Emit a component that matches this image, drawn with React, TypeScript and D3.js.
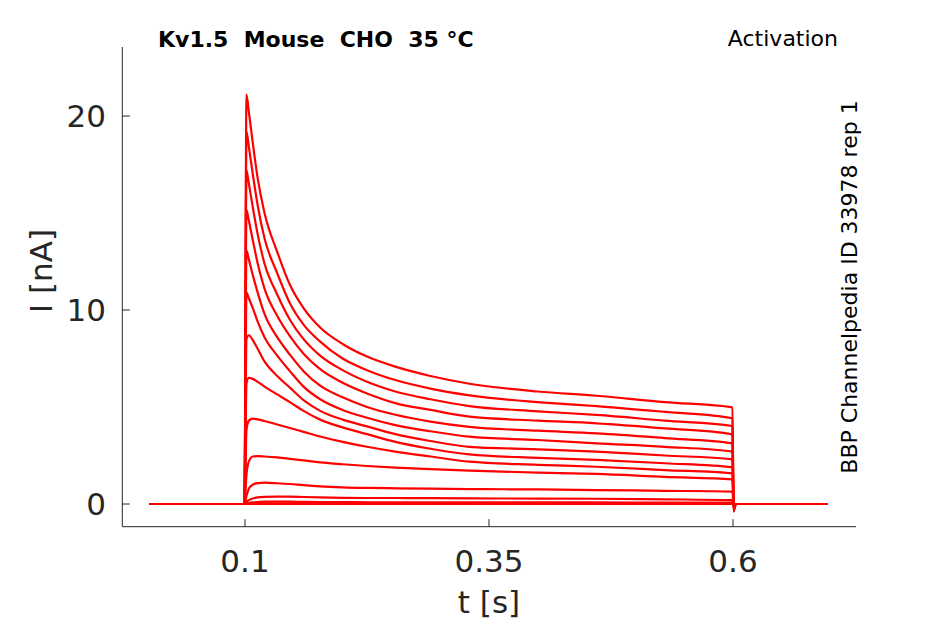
import React from 'react';
import * as d3 from 'd3';

const W = 945;
const H = 624;

// time points (s) of the depolarising step
const stepTimes = [0.1015, 0.104, 0.108, 0.113, 0.12, 0.133, 0.146, 0.16, 0.177, 0.2, 0.225, 0.254, 0.29, 0.33, 0.4, 0.46, 0.53, 0.5995];
const holdStart = [0.002, 0.0995];
const holdEnd = [0.6005, 0.603, 0.697];

// current (nA) of each sweep at stepTimes
const sweep01 = [21.1, 20.2, 18.6, 16.8, 15.0, 13.0, 11.3, 10.1, 9.1, 8.25, 7.6, 7.08, 6.6, 6.2, 5.8, 5.58, 5.25, 4.98];
const sweep02 = [19.2, 18.4, 17.0, 15.4, 13.7, 11.9, 10.35, 9.25, 8.37, 7.5, 6.9, 6.39, 5.95, 5.6, 5.25, 5.05, 4.75, 4.42];
const sweep03 = [17.2, 16.5, 15.3, 13.9, 12.4, 10.8, 9.5, 8.5, 7.65, 6.9, 6.3, 5.8, 5.4, 5.05, 4.78, 4.59, 4.3, 4.02];
const sweep04 = [15.15, 14.6, 13.6, 12.4, 11.1, 9.7, 8.65, 7.75, 6.95, 6.25, 5.7, 5.2, 4.85, 4.5, 4.3, 4.16, 3.9, 3.59];
const sweep05 = [13.06, 12.6, 11.8, 10.9, 9.8, 8.6, 7.7, 6.85, 6.1, 5.5, 5.0, 4.6, 4.25, 3.98, 3.78, 3.64, 3.4, 3.13];
const sweep06 = [10.9, 10.6, 10.1, 9.4, 8.6, 7.65, 6.85, 6.05, 5.4, 4.85, 4.45, 4.07, 3.75, 3.47, 3.3, 3.13, 2.95, 2.7];
const sweep07 = [8.5, 8.7, 8.45, 8.0, 7.35, 6.6, 6.0, 5.35, 4.8, 4.35, 4.0, 3.6, 3.25, 2.95, 2.82, 2.7, 2.5, 2.3];
const sweep08 = [6.2, 6.5, 6.45, 6.3, 6.05, 5.65, 5.25, 4.8, 4.35, 3.95, 3.6, 3.2, 2.85, 2.56, 2.38, 2.27, 2.1, 1.89];
const sweep09 = [3.8, 4.3, 4.4, 4.36, 4.28, 4.1, 3.92, 3.72, 3.48, 3.2, 2.95, 2.7, 2.45, 2.18, 2.02, 1.92, 1.75, 1.58];
const sweep10 = [1.5, 2.2, 2.45, 2.47, 2.45, 2.4, 2.33, 2.25, 2.15, 2.05, 1.96, 1.88, 1.8, 1.72, 1.62, 1.55, 1.4, 1.27];
const sweep11 = [0.4, 0.8, 1.0, 1.08, 1.1, 1.07, 1.03, 0.97, 0.91, 0.86, 0.83, 0.81, 0.79, 0.77, 0.75, 0.72, 0.68, 0.64];
const sweep12 = [0.1, 0.2, 0.28, 0.34, 0.37, 0.38, 0.38, 0.36, 0.34, 0.32, 0.31, 0.31, 0.3, 0.29, 0.28, 0.27, 0.24, 0.2];
const sweep13 = [0.02, 0.05, 0.08, 0.1, 0.12, 0.12, 0.12, 0.11, 0.1, 0.1, 0.09, 0.09, 0.09, 0.08, 0.08, 0.08, 0.07, 0.07];
const sweep14 = [0.01, 0.02, 0.03, 0.03, 0.03, 0.03, 0.03, 0.03, 0.03, 0.03, 0.03, 0.03, 0.03, 0.03, 0.03, 0.03, 0.03, 0.03];
const sweep15 = [0, 0, 0, 0, 0, 0, 0, 0, 0, 0, 0, 0, 0, 0, 0, 0, 0, 0];
const sweeps = [sweep01, sweep02, sweep03, sweep04, sweep05, sweep06, sweep07, sweep08, sweep09, sweep10, sweep11, sweep12, sweep13, sweep14, sweep15];
// tail current right after the step (nA)
const tailDip = [-0.4, -0.35, -0.3, -0.3, -0.25, -0.2, -0.2, -0.15, -0.1, -0.1, -0.05, 0, 0, 0, 0];

const xTicks = [0.1, 0.35, 0.6];
const xTickLabels = ['0.1', '0.35', '0.6'];
const yTicks = [0, 10, 20];
const yTickLabels = ['0', '10', '20'];

const title = 'Kv1.5  Mouse  CHO  35 °C';
const protocol = 'Activation';
const sideNote = 'BBP Channelpedia ID 33978 rep 1';

const left = 122.3, right = 856, top = 47, bottom = 526.7;

export default function App() {
  const x = d3.scaleLinear().domain([-0.0257, 0.726]).range([left, right]);
  const y = d3.scaleLinear().domain([-1.17, 23.56]).range([bottom, top]);
  const line = d3.line<[number, number]>()
    .x(d => x(d[0]))
    .y(d => y(d[1]))
    .curve(d3.curveMonotoneX);

  const paths = sweeps.map((s, i) => {
    const pts: [number, number][] = [
      ...holdStart.map(t => [t, 0] as [number, number]),
      ...stepTimes.map((t, j) => [t, s[j]] as [number, number]),
      [holdEnd[0], tailDip[i]],
      [holdEnd[1], 0],
      [holdEnd[2], 0],
    ];
    return line(pts) || '';
  });

  const font = 'DejaVu Sans';
  const axisColor = '#262626';

  return (
    <svg width={W} height={H} style={{ position: 'absolute', left: 0, top: 0, background: '#fff' }} fontFamily={font}>
      <rect x={0} y={0} width={W} height={H} fill="#fff" />
      <g>
        {paths.map((d, i) => (
          <path key={i} d={d} fill="none" stroke="#ff0000" strokeWidth={2.2} strokeLinejoin="round" />
        ))}
      </g>
      <line x1={left} x2={left} y1={top} y2={bottom} stroke={axisColor} strokeWidth={1} />
      <line x1={left} x2={right} y1={bottom} y2={bottom} stroke={axisColor} strokeWidth={1} />
      {xTicks.map((t, i) => (
        <g key={'xt' + i}>
          <line x1={x(t)} x2={x(t)} y1={bottom} y2={bottom - 7.5} stroke={axisColor} strokeWidth={1} />
          <text x={x(t)} y={572} textAnchor="middle" fontSize={31} fill={axisColor}>{xTickLabels[i]}</text>
        </g>
      ))}
      {yTicks.map((v, i) => (
        <g key={'yt' + i}>
          <line x1={left} x2={left + 7.5} y1={y(v)} y2={y(v)} stroke={axisColor} strokeWidth={1} />
          <text x={106} y={y(v) + 11} textAnchor="end" fontSize={31} fill={axisColor}>{yTickLabels[i]}</text>
        </g>
      ))}
      <text x={489} y={613} textAnchor="middle" fontSize={31} fill={axisColor}>t [s]</text>
      <text transform={`translate(52,${271}) rotate(-90)`} textAnchor="middle" fontSize={31} fill={axisColor}>I [nA]</text>
      <text x={158} y={46.5} fontSize={22} fontWeight="bold" fill="#000" style={{ whiteSpace: 'pre' }}>{title}</text>
      <text x={838} y={46} textAnchor="end" fontSize={22} fill="#000">{protocol}</text>
      <text transform={`translate(857,${287}) rotate(-90)`} textAnchor="middle" fontSize={22} fill="#000">{sideNote}</text>
    </svg>
  );
}
